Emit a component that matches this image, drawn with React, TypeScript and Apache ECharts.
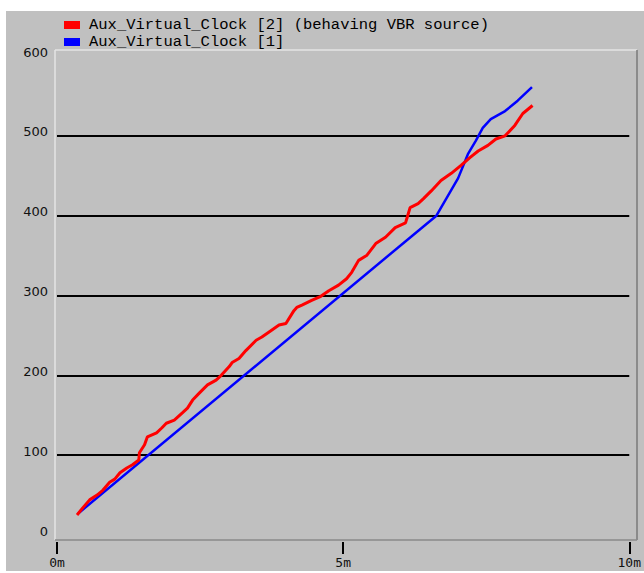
import React, { useEffect, useRef } from "react";
import * as echarts from "echarts";

const redName = "Aux_Virtual_Clock [2] (behaving VBR source)";
const blueName = "Aux_Virtual_Clock [1]";

const redX = [0.35, 0.45, 0.57, 0.70, 0.80, 0.92, 1.01, 1.10, 1.22, 1.32, 1.43, 1.44, 1.53, 1.58, 1.74, 1.83, 1.91, 2.05, 2.19, 2.28, 2.37, 2.49, 2.63, 2.78, 2.87, 3.01, 3.06, 3.18, 3.30, 3.48, 3.58, 3.70, 3.88, 4.00, 4.14, 4.19, 4.28, 4.45, 4.61, 4.75, 4.92, 5.06, 5.15, 5.27, 5.41, 5.57, 5.74, 5.91, 6.09, 6.12, 6.17, 6.31, 6.40, 6.54, 6.71, 6.89, 7.06, 7.22, 7.36, 7.53, 7.67, 7.83, 8.00, 8.14, 8.31];
const redY = [25, 34, 44, 50, 56, 66, 70, 78, 84, 88, 94, 103, 113, 123, 128, 134, 140, 144, 153, 159, 169, 178, 188, 194, 200, 211, 216, 221, 231, 244, 248, 254, 263, 265, 281, 285, 288, 294, 299, 306, 313, 321, 329, 344, 350, 365, 373, 385, 391, 398, 410, 415, 421, 431, 444, 453, 463, 473, 481, 488, 496, 500, 513, 528, 538];

const blueX = [0.37, 6.63, 6.80, 7.01, 7.18, 7.32, 7.44, 7.58, 7.83, 8.05, 8.30];
const blueY = [27, 400, 421, 447, 477, 494, 510, 521, 531, 544, 561];

const xTicks = [0, 5, 10];
const yMax = 600;

export default function App() {
  const ref = useRef<HTMLDivElement>(null);
  useEffect(() => {
    if (!ref.current) return;
    const chart = echarts.init(ref.current, null, { renderer: "svg" });
    const red = redX.map((x, i) => [x, redY[i]]);
    const blue = blueX.map((x, i) => [x, blueY[i]]);
    chart.setOption({
      animation: false,
      backgroundColor: "#ffffff",
      graphic: [
        { type: "rect", z: -10, shape: { x: 6, y: 11, width: 638, height: 560 }, style: { fill: "#c0c0c0" } },
        { type: "line", z: 5, shape: { x1: 55, y1: 50, x2: 637, y2: 50 }, style: { stroke: "#e4e4e4", lineWidth: 1.5 } },
        { type: "line", z: 5, shape: { x1: 55, y1: 50, x2: 55, y2: 540 }, style: { stroke: "#e4e4e4", lineWidth: 1.5 } },
        { type: "line", z: 5, shape: { x1: 637, y1: 50, x2: 637, y2: 540 }, style: { stroke: "#7a7a7a", lineWidth: 1.5 } },
        { type: "line", z: 5, shape: { x1: 55, y1: 540, x2: 637, y2: 540 }, style: { stroke: "#8a8a8a", lineWidth: 1.5 } },
      ],
      legend: {
        orient: "vertical",
        left: 64,
        top: 17,
        padding: 0,
        itemWidth: 16,
        itemHeight: 8,
        itemGap: 1,
        icon: "rect",
        data: [redName, blueName],
        textStyle: { fontFamily: "Liberation Mono", fontSize: 15.5, lineHeight: 14, color: "#000", padding: [0, 0, 0, 4] },
      },
      grid: { left: 57, right: 12, top: 56, bottom: 38 },
      xAxis: {
        type: "value",
        min: xTicks[0],
        max: xTicks[xTicks.length - 1],
        interval: 5,
        offset: 7,
        axisLine: { show: true, onZero: false, lineStyle: { color: "#c0c0c0", width: 1 } },
        axisTick: { show: true, inside: false, length: 12, lineStyle: { color: "#000", width: 2 } },
        axisLabel: {
          margin: 14,
          formatter: (v: number) => `${v}m`,
          fontFamily: "DejaVu Sans Mono",
          fontSize: 13,
          color: "#111",
        },
        splitLine: { show: false },
      },
      yAxis: {
        type: "value",
        min: 0,
        max: yMax,
        interval: 100,
        axisLine: { show: false },
        axisTick: { show: false },
        axisLabel: {
          margin: 9,
          fontFamily: "DejaVu Sans",
          fontSize: 13,
          color: "#111",
          verticalAlign: "bottom",
          lineHeight: 8,
        },
        splitLine: { show: true, showMinLine: false, showMaxLine: false, lineStyle: { color: "#000", width: 2 } },
      },
      series: [
        {
          name: blueName,
          type: "line",
          data: blue,
          showSymbol: false,
          color: "#0000ff",
          lineStyle: { color: "#0000ff", width: 2.5 },
          z: 3,
        },
        {
          name: redName,
          type: "line",
          data: red,
          showSymbol: false,
          color: "#ff0000",
          lineStyle: { color: "#ff0000", width: 3 },
          z: 4,
        },
      ],
    });
    return () => chart.dispose();
  }, []);
  return (
    <div style={{ position: "fixed", left: 0, top: 0, width: 644, height: 573, background: "#fff" }}>
      <div ref={ref} style={{ width: 644, height: 573 }} />
    </div>
  );
}
